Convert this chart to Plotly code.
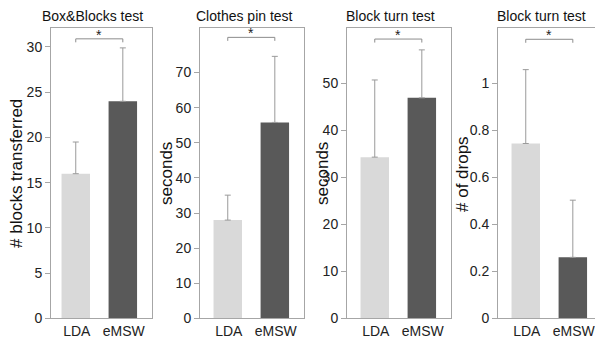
import plotly.graph_objects as go

groups = ["LDA", "eMSW"]
panel_titles = ["Box&Blocks test", "Clothes pin test", "Block turn test", "Block turn test"]
ylabels = ["# blocks transferred", "seconds", "seconds", "# of drops"]
means = [[16.0, 24.0], [28.0, 55.8], [34.3, 46.9], [0.744, 0.26]]
err_plus = [[3.5, 5.9], [7.1, 18.8], [16.4, 10.2], [0.314, 0.243]]
bracket_y = [30.9, 80.0, 59.4, 1.187]
stars = ["*", "*", "*", "*"]
ymax = [32.15, 82.8, 61.85, 1.237]
tick_vals = [[0, 5, 10, 15, 20, 25, 30],
             [0, 10, 20, 30, 40, 50, 60, 70],
             [0, 10, 20, 30, 40, 50],
             [0, 0.2, 0.4, 0.6, 0.8, 1]]
tick_text = [["0", "5", "10", "15", "20", "25", "30"],
             ["0", "10", "20", "30", "40", "50", "60", "70"],
             ["0", "10", "20", "30", "40", "50"],
             ["0", "0.2", "0.4", "0.6", "0.8", "1"]]

bar_colors = ["#d9d9d9", "#595959"]

W, H = 603, 339
px_domains = [(43, 144), (192, 296), (339, 443), (490, 594)]
xranges = [[-0.526, 1.62], [-0.59, 1.62], [-0.59, 1.62], [-0.59, 1.62]]
ytitle_x = [9, 159, 315, 455]
title_x = [84, 236, 382, 533]
ydom = [1 - 318 / H, 1 - 20 / H]

fig = go.Figure()
FONT = "Liberation Sans, Arial, sans-serif"

for i in range(4):
    n = i + 1
    xa = "x" if n == 1 else f"x{n}"
    ya = "y" if n == 1 else f"y{n}"
    fig.add_trace(go.Bar(
        x=[0, 1], y=means[i], xaxis=xa, yaxis=ya,
        marker=dict(color=bar_colors, line=dict(width=0)),
        error_y=dict(type="data", symmetric=False, array=err_plus[i],
                     arrayminus=[0, 0], color="#9a9a9a", thickness=1, width=3),
        showlegend=False, hoverinfo="skip"))
    d = ymax[i] * 0.012
    fig.add_trace(go.Scatter(
        x=[0, 0, 1, 1], y=[bracket_y[i] - d, bracket_y[i], bracket_y[i], bracket_y[i] - d],
        xaxis=xa, yaxis=ya, mode="lines",
        line=dict(color="#8c8c8c", width=1), showlegend=False, hoverinfo="skip"))
    fig.add_annotation(x=0.5, y=bracket_y[i], xref=xa, yref=ya, text=stars[i],
                       showarrow=False, xanchor="center", yanchor="bottom", yshift=-6,
                       font=dict(family=FONT, size=14, color="#222"))
    l, r = px_domains[i]
    fig.update_layout(**{
        ("xaxis" if n == 1 else f"xaxis{n}"): dict(
            domain=[l / W, r / W], anchor=ya, range=xranges[i],
            tickmode="array", tickvals=[0, 1], ticktext=groups,
            ticks="", showline=True, linecolor="#a6a6a6", linewidth=1, mirror=True,
            showgrid=False, zeroline=False, fixedrange=True, ticklabelshift=1,
            tickfont=dict(family=FONT, size=14, color="#222")),
        ("yaxis" if n == 1 else f"yaxis{n}"): dict(
            domain=ydom, anchor=xa, range=[0, ymax[i]],
            tickmode="array", tickvals=tick_vals[i], ticktext=tick_text[i],
            ticks="outside", ticklen=5, tickcolor="#a6a6a6",
            showline=True, linecolor="#a6a6a6", linewidth=1, mirror=True,
            showgrid=False, zeroline=False,
            tickfont=dict(family=FONT, size=14, color="#222")),
    })
    fig.add_annotation(x=title_x[i] / W, y=1 - 8 / H, xref="paper", yref="paper",
                       text=panel_titles[i], showarrow=False,
                       xanchor="center", yanchor="middle",
                       font=dict(family=FONT, size=14, color="#111"))
    fig.add_annotation(x=ytitle_x[i] / W, y=1 - 170 / H, xref="paper", yref="paper",
                       text=ylabels[i], showarrow=False, textangle=-90,
                       xanchor="center", yanchor="middle",
                       font=dict(family=FONT, size=17, color="#111"))

fig.update_layout(width=W, height=H, margin=dict(l=0, r=0, t=0, b=0),
                  plot_bgcolor="white", paper_bgcolor="white", bargap=0.395)
fig.write_html("out.html")
